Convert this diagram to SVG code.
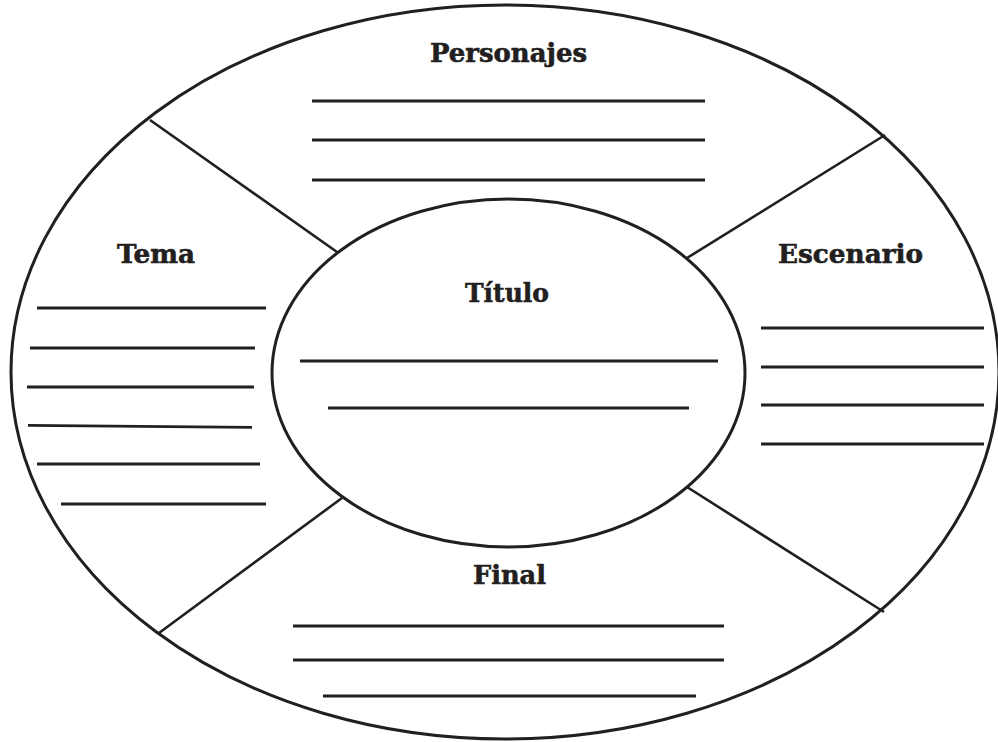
<svg xmlns="http://www.w3.org/2000/svg" width="998" height="742" viewBox="0 0 998 742">
<style>
.shape{fill:none;stroke:#231f20;stroke-width:3}
.div{stroke:#231f20;stroke-width:2.6;fill:none}
.ln{stroke:#231f20;stroke-width:2.8;fill:none}
.lbl{font-family:"DejaVu Serif","Liberation Serif",serif;font-weight:bold;font-size:26px;fill:#231f20;stroke:#231f20;stroke-width:0.6;text-anchor:middle}
</style>
<rect width="998" height="742" fill="#fff"/>
<g id="outer"><ellipse class="shape" cx="505" cy="372" rx="494" ry="367"/></g>
<g id="connectors">
<line class="div" x1="150" y1="120" x2="337" y2="252"/>
<line class="div" x1="885" y1="135" x2="687" y2="258"/>
<line class="div" x1="159" y1="633" x2="342" y2="498"/>
<line class="div" x1="687" y1="487" x2="884" y2="612"/>
</g>
<g id="personajes">
<text class="lbl" x="508.5" y="62" textLength="157" lengthAdjust="spacingAndGlyphs">Personajes</text>
<line class="ln" x1="312" y1="101" x2="705" y2="101"/>
<line class="ln" x1="312" y1="140" x2="705" y2="140"/>
<line class="ln" x1="312" y1="180" x2="705" y2="180"/>
</g>
<g id="tema">
<text class="lbl" x="156" y="263" textLength="78" lengthAdjust="spacingAndGlyphs">Tema</text>
<line class="ln" x1="37" y1="308" x2="266" y2="308"/>
<line class="ln" x1="30" y1="348" x2="255" y2="348"/>
<line class="ln" x1="27" y1="387" x2="254" y2="387"/>
<line class="ln" x1="28" y1="425.3" x2="252" y2="427.3"/>
<line class="ln" x1="37" y1="464" x2="260" y2="464"/>
<line class="ln" x1="61" y1="504" x2="266" y2="504"/>
</g>
<g id="titulo">
<ellipse class="shape" cx="508.5" cy="373" rx="236.5" ry="174"/>
<text class="lbl" x="507" y="302" textLength="84" lengthAdjust="spacingAndGlyphs">Título</text>
<line class="ln" x1="300" y1="361" x2="718" y2="361"/>
<line class="ln" x1="328" y1="408" x2="689" y2="408"/>
</g>
<g id="escenario">
<text class="lbl" x="850.5" y="263" textLength="145" lengthAdjust="spacingAndGlyphs">Escenario</text>
<line class="ln" x1="761" y1="328" x2="984" y2="328"/>
<line class="ln" x1="761" y1="367" x2="984" y2="367"/>
<line class="ln" x1="761" y1="405" x2="984" y2="405"/>
<line class="ln" x1="761" y1="444" x2="984" y2="444"/>
</g>
<g id="final">
<text class="lbl" x="509.5" y="584" textLength="73" lengthAdjust="spacingAndGlyphs">Final</text>
<line class="ln" x1="293" y1="626" x2="724" y2="626"/>
<line class="ln" x1="293" y1="660" x2="724" y2="660"/>
<line class="ln" x1="323" y1="696" x2="696" y2="696"/>
</g>
</svg>
